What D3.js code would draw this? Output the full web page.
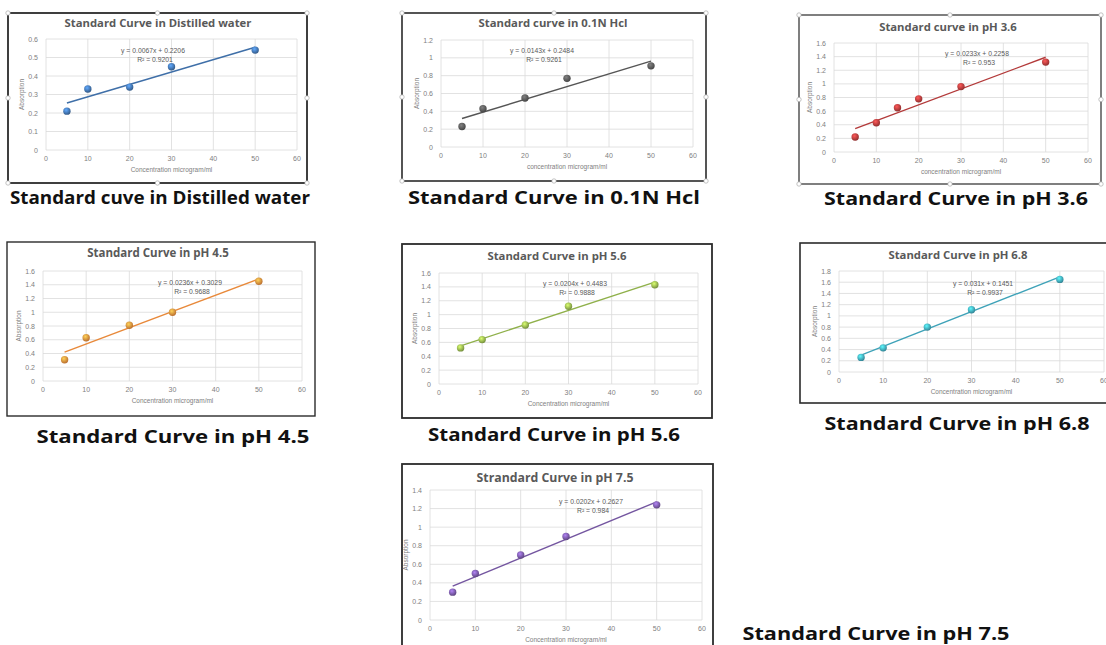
<!DOCTYPE html>
<html>
<head>
<meta charset="utf-8">
<script src="https://cdn.jsdelivr.net/npm/d3@7"></script>
<style>
  body { margin: 0; background: #fff; }
  svg { display: block; }
</style>
</head>
<body>
<div class="board"></div>
<script>
// values
var concDistilled = [5, 10, 20, 30, 50];
var absDistilled  = [0.21, 0.33, 0.34, 0.45, 0.54];
var concHcl = [5, 10, 20, 30, 50];
var absHcl  = [0.23, 0.43, 0.55, 0.77, 0.91];
var concPH36 = [5, 10, 15, 20, 30, 50];
var absPH36  = [0.22, 0.43, 0.65, 0.78, 0.96, 1.32];
var concPH45 = [5, 10, 20, 30, 50];
var absPH45  = [0.31, 0.63, 0.81, 1.00, 1.45];
var concPH56 = [5, 10, 20, 30, 50];
var absPH56  = [0.52, 0.64, 0.85, 1.12, 1.43];
var concPH68 = [5, 10, 20, 30, 50];
var absPH68  = [0.26, 0.43, 0.80, 1.11, 1.65];
var concPH75 = [5, 10, 20, 30, 50];
var absPH75  = [0.30, 0.50, 0.70, 0.90, 1.24];

var slopes     = [0.0067, 0.0143, 0.0233, 0.0236, 0.0204, 0.031, 0.0202];
var intercepts = [0.2206, 0.2484, 0.2258, 0.3029, 0.4483, 0.1451, 0.2627];
var equations  = ["y = 0.0067x + 0.2206", "y = 0.0143x + 0.2484", "y = 0.0233x + 0.2258",
                  "y = 0.0236x + 0.3029", "y = 0.0204x + 0.4483", "y = 0.031x + 0.1451",
                  "y = 0.0202x + 0.2627"];
var rSquared   = ["R² = 0.9201", "R² = 0.9261", "R² = 0.953", "R² = 0.9688",
                  "R² = 0.9888", "R² = 0.9937", "R² = 0.984"];

var chartTitles = ["Standard Curve in Distilled water", "Standard curve in 0.1N Hcl",
                   "Standard curve in pH 3.6", "Standard Curve in pH 4.5",
                   "Standard Curve in pH 5.6", "Standard Curve in pH 6.8",
                   "Strandard Curve in pH 7.5"];
var captions = ["Standard cuve in Distilled water", "Standard Curve in 0.1N Hcl",
                "Standard Curve in pH 3.6", "Standard Curve in pH 4.5",
                "Standard Curve in pH 5.6", "Standard Curve in pH 6.8",
                "Standard Curve in pH 7.5"];
var xTitles = ["Concentration microgram/ml", "concentration microgram/ml",
               "concentration microgram/ml", "Concentration microgram/ml",
               "Concentration microgram/ml", "Concentration microgram/ml",
               "Concentration microgram/ml"];
var yTitle = "Absorption";
var xTicks = [0, 10, 20, 30, 40, 50, 60];
var yMaxes = [0.6, 1.2, 1.6, 1.6, 1.6, 1.8, 1.4];
var ySteps = [0.1, 0.2, 0.2, 0.2, 0.2, 0.2, 0.2];

var concs = [concDistilled, concHcl, concPH36, concPH45, concPH56, concPH68, concPH75];
var absorbs = [absDistilled, absHcl, absPH36, absPH45, absPH56, absPH68, absPH75];

// layout of each pasted chart on the board
var panels = [
  {box: [8, 13, 307, 183], plot: [46, 39, 297, 150], titleY: 23, titleX: 158, titleSize: 11.3, eq: [153, 51], color: "#3f6fa8", cap: [160, 204, 300], stroke: 1.8, handles: true},
  {box: [402, 13, 706, 181], plot: [441, 40, 693, 147], titleY: 23, titleX: 553, titleSize: 11.3, eq: [542, 51], color: "#555555", cap: [554, 204, 292], stroke: 1.6, handles: true},
  {box: [799, 15, 1101, 184], plot: [834, 43, 1088, 152], titleY: 27, titleX: 948, titleSize: 11.3, eq: [977, 54], color: "#b33a3a", cap: [956, 205, 264], stroke: 1.2, handles: true},
  {box: [7, 242, 315, 416], plot: [43, 271, 302, 381], titleY: 253, titleX: 158, titleSize: 11.5, eq: [190, 283], color: "#e8893a", cap: [173, 443, 273], stroke: 1.4},
  {box: [402, 244, 712, 418], plot: [439, 273, 698, 384], titleY: 256, titleX: 557, titleSize: 11.3, eq: [575, 284], color: "#8fb04a", cap: [554, 441, 252], stroke: 1.8},
  {box: [800, 243, 1120, 403], plot: [839, 271, 1104, 372], titleY: 255, titleX: 958, titleSize: 11.3, eq: [983, 284], color: "#3ea2b8", cap: [957, 430, 265], stroke: 1.6},
  {box: [402, 464, 713, 660], plot: [430, 490, 702, 620], titleY: 478, titleX: 555, titleSize: 12.3, eq: [591, 502], color: "#7456a0", cap: [876, 640, 267], stroke: 1.8}
];

var svg = d3.select(".board").append("svg")
  .attr("width", 1106)
  .attr("height", 645);

svg.append("rect").attr("width", 1106).attr("height", 645).attr("fill", "white");

var defs = svg.append("defs");

function drawPanel(i) {
  var p = panels[i];
  var g = svg.append("g").attr("class", "panel" + i);

  // little 3d-ish markers like excel
  var grad = defs.append("radialGradient")
    .attr("id", "dot" + i)
    .attr("cx", "40%").attr("cy", "35%").attr("r", "65%");
  grad.append("stop").attr("offset", "0%").attr("stop-color", d3.color(p.color).brighter(1.2));
  grad.append("stop").attr("offset", "100%").attr("stop-color", d3.color(p.color).darker(0.6));

  g.append("rect")
    .attr("x", p.box[0]).attr("y", p.box[1])
    .attr("width", p.box[2] - p.box[0]).attr("height", p.box[3] - p.box[1])
    .attr("fill", "white")
    .attr("stroke", "#2b2b2b")
    .attr("stroke-width", p.stroke);

  var x = d3.scaleLinear().domain([0, 60]).range([p.plot[0], p.plot[2]]);
  var y = d3.scaleLinear().domain([0, yMaxes[i]]).range([p.plot[3], p.plot[1]]);
  var yTicks = d3.range(0, yMaxes[i] + ySteps[i] / 2, ySteps[i]);

  // gridlines
  g.append("g").selectAll("line.h")
    .data(yTicks)
    .enter().append("line")
    .attr("x1", p.plot[0]).attr("x2", p.plot[2])
    .attr("y1", d => y(d)).attr("y2", d => y(d))
    .attr("stroke", "#dadada").attr("stroke-width", 0.8);
  g.append("g").selectAll("line.v")
    .data(xTicks)
    .enter().append("line")
    .attr("x1", d => x(d)).attr("x2", d => x(d))
    .attr("y1", p.plot[1]).attr("y2", p.plot[3])
    .attr("stroke", "#dadada").attr("stroke-width", 0.8);

  // tick labels
  g.append("g").selectAll("text")
    .data(yTicks)
    .enter().append("text")
    .attr("x", p.plot[0] - 8)
    .attr("y", d => y(d) + 2.5)
    .attr("text-anchor", "end")
    .style("font", "7px 'Liberation Sans', Arial, sans-serif")
    .attr("fill", "#808080")
    .text(d => +d.toFixed(1));
  g.append("g").selectAll("text")
    .data(xTicks)
    .enter().append("text")
    .attr("x", d => x(d))
    .attr("y", p.plot[3] + 11)
    .attr("text-anchor", "middle")
    .style("font", "7px 'Liberation Sans', Arial, sans-serif")
    .attr("fill", "#808080")
    .text(d => d);

  // axis titles
  g.append("text")
    .attr("x", (p.plot[0] + p.plot[2]) / 2)
    .attr("y", p.plot[3] + 22)
    .attr("text-anchor", "middle")
    .style("font", "6.5px 'Liberation Sans', Arial, sans-serif")
    .attr("fill", "#808080")
    .text(xTitles[i]);
  g.append("text")
    .attr("transform", "translate(" + (p.plot[0] - 22) + "," + ((p.plot[1] + p.plot[3]) / 2) + ") rotate(-90)")
    .attr("text-anchor", "middle")
    .style("font", "6.5px 'Liberation Sans', Arial, sans-serif")
    .attr("fill", "#808080")
    .text(yTitle);

  // chart title
  g.append("text")
    .attr("x", p.titleX)
    .attr("y", p.titleY + 4)
    .attr("text-anchor", "middle")
    .style("font", "bold " + p.titleSize + "px 'Open Sans', sans-serif")
    .attr("fill", "#595959")
    .text(chartTitles[i]);

  // linear trendline over the data range
  var xs = concs[i];
  var ext = d3.extent(xs);
  g.append("line")
    .attr("x1", x(ext[0])).attr("y1", y(slopes[i] * ext[0] + intercepts[i]))
    .attr("x2", x(ext[1])).attr("y2", y(slopes[i] * ext[1] + intercepts[i]))
    .attr("stroke", p.color)
    .attr("stroke-width", 1.4);

  g.append("g").selectAll("circle")
    .data(xs.map((c, k) => [c, absorbs[i][k]]))
    .enter().append("circle")
    .attr("cx", d => x(d[0]))
    .attr("cy", d => y(d[1]))
    .attr("r", 3.7)
    .attr("fill", "url(#dot" + i + ")");

  // equation + r squared
  g.append("text")
    .attr("x", p.eq[0]).attr("y", p.eq[1] + 2)
    .attr("text-anchor", "middle")
    .style("font", "6.8px 'Liberation Sans', Arial, sans-serif")
    .attr("fill", "#595959")
    .text(equations[i]);
  g.append("text")
    .attr("x", p.eq[0] + 2).attr("y", p.eq[1] + 11)
    .attr("text-anchor", "middle")
    .style("font", "6.8px 'Liberation Sans', Arial, sans-serif")
    .attr("fill", "#595959")
    .text(rSquared[i]);

  if (p.handles) {
    var b = p.box;
    var mx = (b[0] + b[2]) / 2, my = (b[1] + b[3]) / 2;
    var pts = [[b[0], b[1]], [mx, b[1]], [b[2], b[1]], [b[0], my], [b[2], my], [b[0], b[3]], [mx, b[3]], [b[2], b[3]]];
    g.append("g").selectAll("circle")
      .data(pts)
      .enter().append("circle")
      .attr("cx", d => d[0]).attr("cy", d => d[1])
      .attr("r", 2.2)
      .attr("fill", "white")
      .attr("stroke", "#aaaaaa")
      .attr("stroke-width", 0.7);
  }

  // caption under each chart
  svg.append("text")
    .attr("x", p.cap[0])
    .attr("y", p.cap[1])
    .attr("text-anchor", "middle")
    .attr("textLength", p.cap[2])
    .attr("lengthAdjust", "spacingAndGlyphs")
    .style("font", "bold 18px 'Open Sans', sans-serif")
    .attr("fill", "#111111")
    .text(captions[i]);
}

for (var i = 0; i < panels.length; i++) {
  drawPanel(i);
}
</script>
</body>
</html>
